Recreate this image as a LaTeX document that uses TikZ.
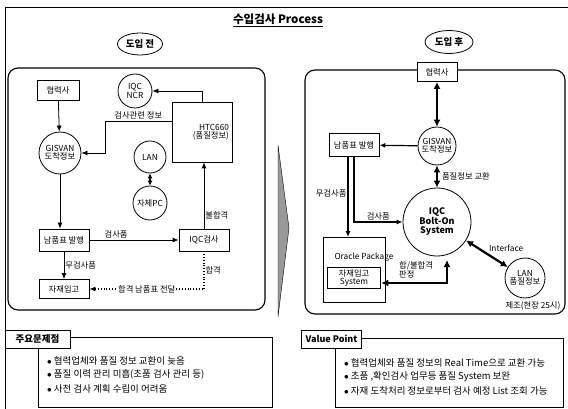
\documentclass[tikz,border=0pt]{standalone}
\usepackage{fontspec}
\setmainfont{Noto Sans CJK KR}
\usetikzlibrary{arrows.meta,positioning,calc,shapes.geometric}
\newcommand{\ptsize}[1]{\fontsize{#1}{#1}\selectfont}

\begin{document}
\begin{tikzpicture}[x=1pt, y=-1pt, every node/.style={font=\ptsize{8.3}},
    box/.style={draw, thick, fill=white, inner sep=2pt, align=center},
    circ/.style={draw, thick, circle, fill=white, inner sep=0pt, align=center},
    arr/.style={-{Latex[length=6pt,width=5pt]}, thick},
    darr/.style={{Latex[length=7pt,width=7pt]}-{Latex[length=7pt,width=7pt]}, line width=2.2pt},
    lbl/.style={inner sep=1pt},
    panel/.style={draw, line width=1.1pt, rounded corners=10pt},
    head/.style={draw, thick, fill=white, font=\bfseries\ptsize{9.5}, inner xsep=4pt}]
    \useasboundingbox (0,0) rectangle (568,409);
    \draw[thick] (5,409) -- (5,7) -- (568,7);
    \node[font=\bfseries\ptsize{11.5}] (title) at (278,20) {\underline{수입검사 Process}};

    % before / after
    \node[draw, thick, ellipse, minimum width=45pt, minimum height=22pt, inner sep=0pt, font=\bfseries\ptsize{9.5}] (before) at (140,44) {도입 전};
    \node[draw, thick, ellipse, minimum width=48pt, minimum height=23pt, inner sep=0pt, font=\bfseries\ptsize{9.5}] (after) at (449,42) {도입 후};
    \draw[panel] (8,68) rectangle (265,310);
    \draw[panel] (305,70) rectangle (565,314);
    \filldraw[fill=black!40, draw=black] (278,145) -- (289,228) -- (278,317) -- cycle;

    % before
    \node[box, minimum width=42pt, minimum height=20pt] (partnerl) at (58,90) {협력사};
    \node[circ, minimum size=34pt] (ncr) at (135,91) {IQC\\NCR};
    \node[box, minimum width=60pt, minimum height=60pt, text width=54pt, align=right] (htc) at (202,132) {HTC660\\(품질정보)};
    \node[circ, minimum size=42pt] (gisl) at (60,153) {GISVAN\\도착정보};
    \node[circ, minimum size=32pt] (lanl) at (150,157) {LAN};
    \node[circ, minimum size=34pt] (pc) at (150,203) {자체PC};
    \node[box, minimum width=50pt, minimum height=22pt] (slipl) at (64,240) {남품표 발행};
    \node[box, minimum width=50pt, minimum height=22pt] (iqcl) at (204,240) {IQC검사};
    \node[box, minimum width=50pt, minimum height=19pt] (stockl) at (64,289) {자재입고};
    \coordinate (kink) at (105,121);
    \coordinate (pass) at (iqcl.south |- stockl.east);

    \draw[arr] (partnerl) -- (gisl);
    \draw[arr] (htc.north) |- (ncr);
    \draw[arr] (htc.west |- kink) -- node[lbl, above]{검사관련 정보} (kink) |- (gisl);
    \draw[{Latex[length=5pt,width=5pt]}-{Latex[length=5pt,width=5pt]}, line width=1.4pt] (lanl) -- (pc);
    \draw[arr] (gisl.south) -- (gisl.south |- slipl.north);
    \draw[arr] (slipl) -- node[lbl, above, pos=0.3]{검사품} (iqcl);
    \draw[arr] (iqcl.north) -- node[lbl, right, pos=0.2]{불합격} (iqcl.north |- htc.south);
    \draw[arr] (slipl.south) -- node[lbl, right]{무검사품} (slipl.south |- stockl.north);
    \draw[arr, dotted, line width=1.2pt] (iqcl.south) -- node[lbl, right]{합격} (pass) -- node[lbl, fill=white]{합격 남품표 전달} (stockl.east);

    % after
    \node[box, minimum width=40pt, minimum height=19pt] (partnerr) at (437,72) {협력사};
    \node[circ, minimum size=38pt] (gisr) at (437,146) {GISVAN\\도착정보};
    \node[box, minimum width=50pt, minimum height=23pt] (slipr) at (354,145) {남품표 발행};
    \node[circ, minimum size=68pt, font=\bfseries\ptsize{9}] (bolt) at (437,222) {IQC\\Bolt-On\\System};
    \node[draw, thick, minimum width=62pt, minimum height=65pt] (oracle) at (354,270) {};
    \node[lbl] (oraclel) at (364,257) {Oracle Package};
    \node[box, line width=1.6pt, minimum width=53pt, minimum height=21pt, inner sep=1pt] (stockr) at (354,278) {자재입고\\System};
    \node[circ, minimum size=40pt] (lanr) at (525,278) {LAN\\품질정보};
    \node[lbl] (plant) at (533,306) {제조(현장 25시)};
    \coordinate (judge) at (447,283);
    \coordinate (judgetop) at (447,260);

    \draw[darr] (partnerr) -- (gisr);
    \draw[arr, line width=1.2pt] (gisr) -- (slipr);
    \draw[darr] (gisr) -- node[lbl, right=3pt]{품질정보 교환} (bolt);
    \draw[arr, line width=1.2pt] ([xshift=-6pt]slipr.south) -- node[lbl, left, pos=0.45]{무검사품} ([xshift=-6pt]slipr.south |- oracle.north);
    \draw[arr, line width=1.2pt] (slipr.south) |- node[lbl, above, pos=0.75]{검사품} (bolt);
    \draw[darr] (stockr.east |- judge) -- (judge) -- (judgetop);
    \node[lbl, align=left, anchor=west] (judgel) at (398,270) {합/불합격\\판정};
    \draw[darr] (bolt) -- node[lbl, above right]{Interface} (lanr);

    % bottom notes
    \node[draw, thick, minimum width=234pt, minimum height=70pt] (issues) at (155,372) {};
    \node[head, minimum width=65pt, minimum height=18pt] (issuehead) at (37.5,339) {주요문제점};
    \node[lbl, anchor=west, align=left, font=\ptsize{9.5}, inner sep=0pt] (issuetext) at (47,375) {$\bullet$ 협력업체와 품질 정보 교환이 늦음\\[3.5pt]$\bullet$ 품질 이력 관리 미흡(초품 검사 관리 등)\\[3.5pt]$\bullet$ 사전 검사 계획 수립이 어려움};
    \node[draw, thick, minimum width=228pt, minimum height=69pt] (values) at (449,372.5) {};
    \node[head, minimum width=53pt, minimum height=18pt, font=\bfseries\ptsize{9}] (valuehead) at (331.5,339) {Value Point};
    \node[lbl, anchor=west, align=left, font=\ptsize{9.5}, inner sep=0pt] (valuetext) at (344,377) {$\bullet$ 협력업체와 품질 정보의 Real Time으로  교환 가능\\[3.5pt]$\bullet$ 초품 ,확인검사 업무등 품질 System 보완\\[3.5pt]$\bullet$ 자재 도착처리 정보로부터 검사 예정 List 조회 가능};
\end{tikzpicture}
\end{document}
